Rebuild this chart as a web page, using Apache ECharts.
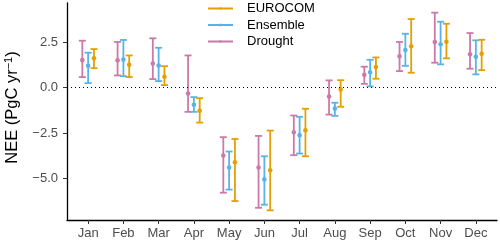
<!DOCTYPE html>
<html><head><meta charset="utf-8">
<script src="https://cdn.jsdelivr.net/npm/echarts@6/dist/echarts.min.js"></script>
<style>html,body{margin:0;padding:0;background:#fff}#c{width:500px;height:243px}</style>
</head><body><div id="c"></div>
<script>
const months = ['Jan','Feb','Mar','Apr','May','Jun','Jul','Aug','Sep','Oct','Nov','Dec'];
const droughtMid  = [1.50, 1.49, 1.32, -0.33, -3.74, -4.40, -2.46, -0.50, 0.70, 1.71, 2.50, 1.82];
const droughtLow  = [0.57, 0.66, 0.46, -1.34, -5.78, -6.61, -3.72, -1.49, 0.20, 0.90, 1.36, 1.03];
const droughtHigh = [2.57, 2.50, 2.70, 1.76, -2.73, -2.66, -1.54, 0.39, 1.14, 2.50, 4.11, 2.99];
const ensembleMid  = [1.19, 1.54, 1.21, -0.95, -4.40, -5.05, -2.62, -1.16, 0.83, 2.06, 2.37, 1.69];
const ensembleLow  = [0.24, 0.62, 0.35, -1.34, -5.61, -6.44, -3.63, -1.56, 0.06, 1.19, 1.27, 0.72];
const ensembleHigh = [1.91, 2.61, 2.18, -0.53, -3.52, -3.78, -1.61, -0.84, 1.52, 2.95, 3.61, 2.59];
const eurocomMid  = [1.60, 1.25, 0.59, -1.28, -4.11, -4.55, -2.35, -0.11, 1.12, 2.26, 2.51, 1.85];
const eurocomLow  = [1.06, 0.57, 0.13, -1.93, -6.24, -6.75, -3.78, -1.06, 0.48, 0.81, 1.60, 0.95];
const eurocomHigh = [2.11, 1.76, 1.17, -0.59, -2.83, -2.37, -1.17, 0.40, 1.65, 3.76, 3.50, 2.62];
const yTicks = [-5, -2.5, 0, 2.5];
const monthIdx = months.map((m, i) => i);

const FONT = '"Liberation Sans", Arial, Helvetica, sans-serif';
const COLORS = {Drought: '#CC79A7', Ensemble: '#56B4E9', EUROCOM: '#E69F00'};

function build(low, mid, high) {
  return months.map((m, i) => [i, low[i], mid[i], high[i]]);
}
function makeRender(offset, color) {
  return function (params, api) {
    const x = api.value(0) + offset;
    const lo = api.coord([x, api.value(1)]);
    const md = api.coord([x, api.value(2)]);
    const hi = api.coord([x, api.value(3)]);
    const cl = api.coord([x - 0.1, 0])[0];
    const cr = api.coord([x + 0.1, 0])[0];
    const st = {stroke: color, lineWidth: 1.8, fill: null};
    return {type: 'group', children: [
      {type: 'line', shape: {x1: lo[0], y1: lo[1], x2: hi[0], y2: hi[1]}, style: st},
      {type: 'line', shape: {x1: cl, y1: hi[1], x2: cr, y2: hi[1]}, style: st},
      {type: 'line', shape: {x1: cl, y1: lo[1], x2: cr, y2: lo[1]}, style: st},
      {type: 'circle', shape: {cx: md[0], cy: md[1], r: 2.3}, style: {fill: color}}
    ]};
  };
}
function series(name, offset, low, mid, high, extra) {
  return Object.assign({
    name, type: 'custom', data: build(low, mid, high),
    renderItem: makeRender(offset, COLORS[name]),
    itemStyle: {color: COLORS[name]},
    encode: {x: 0, y: [1, 2, 3]},
    clip: false, silent: true
  }, extra || {});
}
const legendIcon = 'path://M0,0M34,10M0,4H25V6H0ZM11.3,3.8H13.7V6.2H11.3Z';

const chart = echarts.init(document.getElementById('c'), null, {renderer: 'canvas'});
chart.setOption({
  animation: false,
  backgroundColor: '#fff',
  grid: {left: 67, right: 3, top: 3, bottom: 23, containLabel: false, outerBoundsMode: 'none'},
  legend: {
    orient: 'vertical', left: 208, top: 2, padding: 0,
    itemWidth: 34, itemHeight: 10, itemGap: 3.5,
    textStyle: {fontFamily: FONT, fontSize: 13, color: '#000', lineHeight: 13},
    data: [
      {name: 'EUROCOM', icon: legendIcon},
      {name: 'Ensemble', icon: legendIcon},
      {name: 'Drought', icon: legendIcon}
    ],
    selectedMode: false
  },
  xAxis: {
    type: 'value', min: -0.6, max: 11.6,
    splitLine: {show: false},
    axisLine: {show: true, onZero: false, lineStyle: {color: '#000', width: 1.3}},
    axisTick: {show: true, length: 4, lineStyle: {color: '#333'}, customValues: monthIdx},
    axisLabel: {
      customValues: monthIdx, margin: 7,
      formatter: v => months[Math.round(v)] || '',
      fontFamily: FONT, fontSize: 13, color: '#4D4D4D'
    }
  },
  yAxis: {
    type: 'value', min: -7.28, max: 4.64,
    splitLine: {show: false},
    axisLine: {show: true, onZero: false, lineStyle: {color: '#000', width: 1.3}},
    axisTick: {show: true, length: 4, lineStyle: {color: '#333'}, customValues: yTicks},
    axisLabel: {
      customValues: yTicks, margin: 9,
      formatter: v => v.toFixed(1).replace('-', '\u2212'),
      fontFamily: FONT, fontSize: 13, color: '#4D4D4D'
    },
    name: 'NEE (PgC yr{sup|\u22121})',
    nameLocation: 'middle', nameGap: 41,
    nameTextStyle: {
      fontFamily: FONT, fontSize: 16.5, color: '#000',
      padding: [0, 0, 0, 8],
      rich: {sup: {fontFamily: FONT, fontSize: 11, color: '#000', verticalAlign: 'top', padding: [0, 0, 7, 0]}}
    }
  },
  series: [
    series('Drought', -0.165, droughtLow, droughtMid, droughtHigh, {
      markLine: {
        silent: true, symbol: 'none', label: {show: false},
        lineStyle: {color: '#000', type: [1, 3], width: 1},
        data: [{yAxis: 0}]
      }
    }),
    series('Ensemble', 0, ensembleLow, ensembleMid, ensembleHigh),
    series('EUROCOM', 0.165, eurocomLow, eurocomMid, eurocomHigh)
  ]
});
</script></body></html>
